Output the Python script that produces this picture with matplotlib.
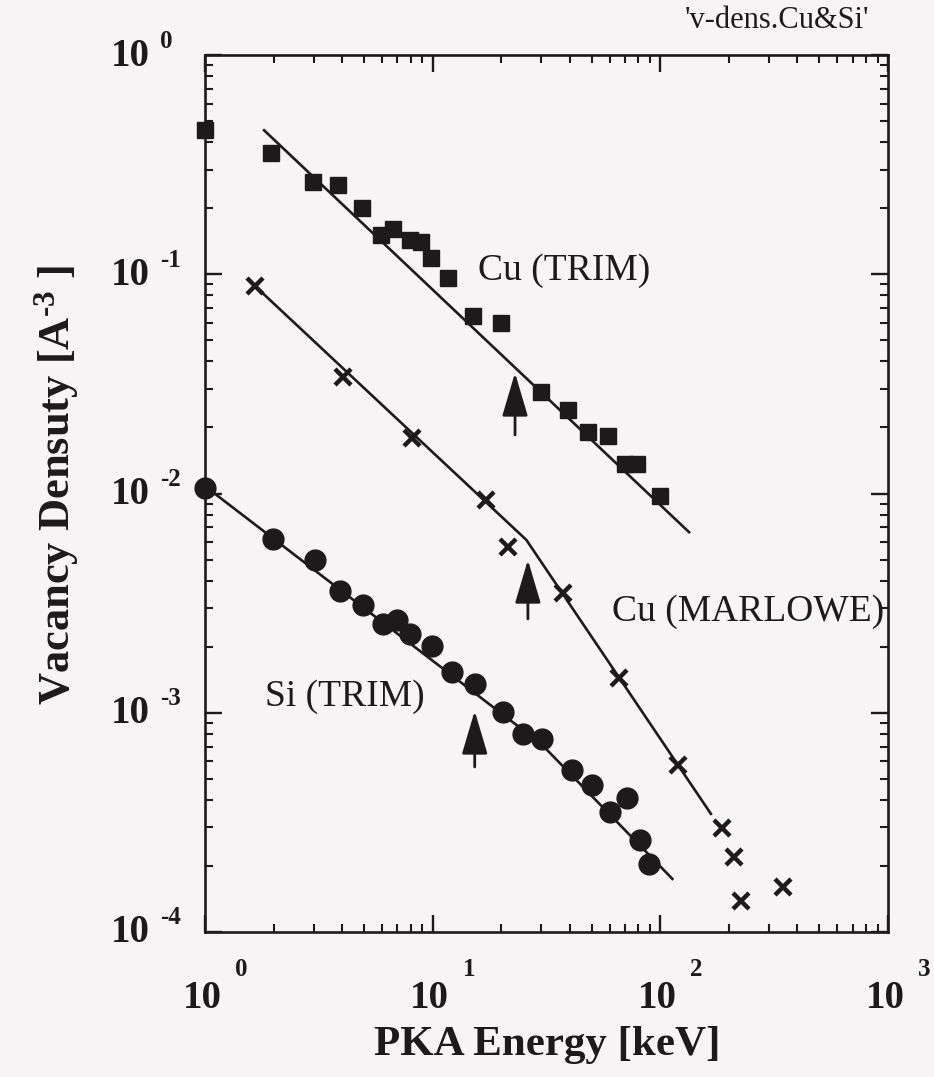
import matplotlib
matplotlib.use("Agg")
import matplotlib.pyplot as plt
import matplotlib.transforms as mtransforms
from matplotlib.ticker import LogLocator, NullFormatter

# ---------------- data ----------------
cu_trim_E = [1.0, 1.94, 2.97, 3.85, 4.87, 5.93, 6.7, 7.95, 8.85, 9.8, 11.7, 15.0,
             19.9, 29.8, 39.4, 48.2, 59.0, 70.0, 78.7, 99.6]
cu_trim_v = [0.455, 0.356, 0.264, 0.255, 0.200, 0.151, 0.160, 0.144, 0.141, 0.118,
             0.096, 0.0645, 0.0597, 0.029, 0.024, 0.0191, 0.0182, 0.0137, 0.0137, 0.0097]
cu_trim_fit_E = [1.80, 135.0]
cu_trim_fit_v = [0.458, 0.0066]

cu_marl_E = [1.66, 4.02, 8.08, 17.1, 21.5, 37.5, 66.0, 120.0, 186.0, 210.0, 227.0, 347.0]
cu_marl_v = [0.0883, 0.0341, 0.01786, 0.00934, 0.00568, 0.00351, 0.001436, 0.000578,
             0.000297, 0.000219, 0.000139, 0.000160]
cu_marl_fit_E = [1.66, 25.8, 168.0]
cu_marl_fit_v = [0.0883, 0.00614, 0.000342]

si_trim_E = [1.0, 1.98, 3.04, 3.92, 4.96, 6.07, 6.95, 7.94, 9.9, 12.1, 15.3, 20.4,
             25.0, 30.1, 40.8, 49.9, 71.1, 60.1, 81.3, 89.4]
si_trim_v = [0.0106, 0.00617, 0.00497, 0.00359, 0.0031, 0.00255, 0.00264, 0.00228,
             0.00201, 0.00153, 0.00135, 0.00101, 0.0008, 0.000757, 0.000548, 0.000468,
             0.000407, 0.000354, 0.000263, 0.000204]
si_trim_fit_E = [1.0, 30.0, 114.0]
si_trim_fit_v = [0.0108, 0.00072, 0.000173]

series_labels = ["Cu (TRIM)", "Cu (MARLOWE)", "Si (TRIM)"]
x_tick_exp = [0, 1, 2, 3]
y_tick_exp = [0, -1, -2, -3, -4]
x_label = "PKA Energy [keV]"
y_label = "Vacancy Densuty [A$^{\\text{-3}}$ ]"
title_text = "'v-dens.Cu&Si'"

# ---------------- style ----------------
INK = "#1e1a1b"
BG = "#f7f4f5"
SERIF = ["Liberation Serif", "DejaVu Serif"]
plt.rcParams["font.family"] = SERIF
plt.rcParams["mathtext.fontset"] = "custom"
plt.rcParams["mathtext.rm"] = "Liberation Serif:bold"
plt.rcParams["mathtext.it"] = "Liberation Serif:bold"
plt.rcParams["mathtext.bf"] = "Liberation Serif:bold"

DPI = 100
fig = plt.figure(figsize=(9.34, 10.77), dpi=DPI, facecolor=BG)
ax = fig.add_axes([205 / 934, 1 - 932 / 1077, (888 - 205) / 934, (932 - 55) / 1077])
ax.set_facecolor(BG)
ax.set_xscale("log")
ax.set_yscale("log")
ax.set_xlim(1, 1000)
ax.set_ylim(1e-4, 1)

# fitted lines
for fe, fv in [(cu_trim_fit_E, cu_trim_fit_v), (cu_marl_fit_E, cu_marl_fit_v),
               (si_trim_fit_E, si_trim_fit_v)]:
    ax.plot(fe, fv, color=INK, lw=1.9, solid_capstyle="butt", zorder=2)

# markers
ax.plot(cu_trim_E, cu_trim_v, ls="none", marker="s", ms=11, color=INK,
        clip_on=False, zorder=3)
ax.plot(cu_marl_E, cu_marl_v, ls="none", marker="x", ms=11, mew=3.2, color=INK,
        clip_on=False, zorder=3)
ax.plot(si_trim_E, si_trim_v, ls="none", marker="o", ms=15, color=INK,
        clip_on=False, zorder=3)

# series labels
ax.text(15.8, 0.104, series_labels[0], fontsize=27, color=INK, va="center", ha="left")
ax.text(61.3, 0.00288, series_labels[1], fontsize=27, color=INK, va="center", ha="left")
ax.text(1.83, 0.00118, series_labels[2], fontsize=27, color=INK, va="center", ha="left")

# arrows
arrow_kw = dict(arrowstyle="-|>,head_length=1.35,head_width=0.4", mutation_scale=20,
                lw=2.0, color=INK, shrinkA=0, shrinkB=0)
ax.annotate("", xy=(23.0, 0.0355), xytext=(23.0, 0.0185), arrowprops=arrow_kw)
ax.annotate("", xy=(26.2, 0.00498), xytext=(26.2, 0.00268), arrowprops=arrow_kw)
ax.annotate("", xy=(15.3, 0.00102), xytext=(15.3, 0.000566), arrowprops=arrow_kw)

# ticks
ax.xaxis.set_major_locator(LogLocator(base=10, numticks=10))
ax.xaxis.set_minor_locator(LogLocator(base=10, subs=range(2, 10), numticks=20))
ax.yaxis.set_major_locator(LogLocator(base=10, numticks=10))
ax.yaxis.set_minor_locator(LogLocator(base=10, subs=range(2, 10), numticks=20))
ax.xaxis.set_major_formatter(NullFormatter())
ax.xaxis.set_minor_formatter(NullFormatter())
ax.yaxis.set_major_formatter(NullFormatter())
ax.yaxis.set_minor_formatter(NullFormatter())
ax.tick_params(which="both", direction="in", top=True, right=True, color=INK)
ax.tick_params(which="major", length=12, width=1.7)
ax.tick_params(which="minor", length=6, width=1.5)
for s in ax.spines.values():
    s.set_linewidth(1.9)
    s.set_color(INK)

# tick labels: "10" plus a detached superscript
xtr = ax.get_xaxis_transform()
ytr = ax.get_yaxis_transform()
for e in x_tick_exp:
    t_main = mtransforms.offset_copy(xtr, fig=fig, x=-3, y=-67, units="dots")
    t_sup = mtransforms.offset_copy(xtr, fig=fig, x=30, y=-38, units="dots")
    ax.text(10.0 ** e, 0, "10", transform=t_main, ha="center", va="center",
            fontsize=28, fontweight="bold", color=INK)
    ax.text(10.0 ** e, 0, str(e), transform=t_sup, ha="left", va="center",
            fontsize=18, fontweight="bold", color=INK)
for e in y_tick_exp:
    t_main = mtransforms.offset_copy(ytr, fig=fig, x=-55, y=-1, units="dots")
    t_sup = mtransforms.offset_copy(ytr, fig=fig, x=-45, y=14, units="dots")
    ax.text(0, 10.0 ** e, "10", transform=t_main, ha="right", va="center",
            fontsize=28, fontweight="bold", color=INK)
    ax.text(0, 10.0 ** e, str(e), transform=t_sup, ha="left", va="center",
            fontsize=18, fontweight="bold", color=INK)

# axis titles
fig.text(547 / 934, 1 - 1045 / 1077, x_label, ha="center", va="center",
         fontsize=31, fontweight="bold", color=INK)
fig.text(57 / 934, 1 - 485 / 1077, y_label, ha="center", va="center", rotation=90,
         fontsize=32, fontweight="bold", color=INK)
fig.text(869 / 934, 1 - 21 / 1077, title_text, ha="right", va="center",
         fontsize=22, color=INK)

fig.savefig("out.png", dpi=DPI, facecolor=BG)
